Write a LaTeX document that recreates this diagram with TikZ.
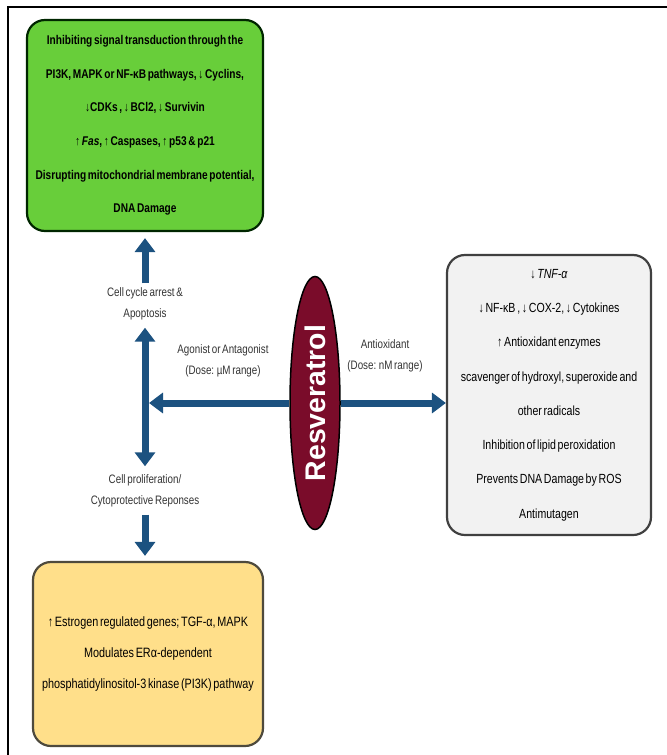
\documentclass[tikz,border=0pt]{standalone}
\usepackage{fontspec}
\setmainfont{Liberation Sans}
\newfontfamily\narrowsf[FakeStretch=0.8]{Liberation Sans}
\newcommand\tightsp{\spaceskip=0.17em plus 0.05em minus 0.03em\relax}
\usetikzlibrary{arrows.meta,positioning,shapes.geometric}
\definecolor{arrowblue}{RGB}{28,82,128}
\definecolor{cellgreen}{RGB}{104,206,58}
\definecolor{antigray}{RGB}{242,242,242}
\definecolor{estroyellow}{RGB}{255,223,138}
\definecolor{resmaroon}{RGB}{122,12,42}

\begin{document}
\begin{tikzpicture}[x=1bp, y=-1bp, >={Triangle[width=20bp,length=14bp]},
    box/.style={draw, line width=2.2bp, rounded corners=18bp, align=flush center, inner sep=0pt},
    lbl/.style={font=\narrowsf\tightsp\fontsize{12.3}{21}\selectfont, align=center, text=black!80},
    flow/.style={draw=arrowblue, line width=7bp}]
    \useasboundingbox (0,0) rectangle (667,755);
    \draw[line width=2.5bp] (8,760) -- (8,7) -- (670,7);

    % the three effect boxes
    \node[box, fill=cellgreen, draw=black!85!green, minimum width=236bp, minimum height=211bp, text width=234bp,
        font=\narrowsf\bfseries\tightsp\fontsize{12.7}{33.8}\selectfont] (arrest) at (145,125.5)
        {Inhibiting signal transduction through the\\
         PI3K, MAPK or NF-κB pathways, ↓ Cyclins,\\
         ↓CDKs , ↓ BCl2, ↓ Survivin\\
         ↑ \textit{Fas}, ↑ Caspases, ↑ p53 \& p21\\
         Disrupting mitochondrial membrane potential,\\
         DNA Damage};
    \node[box, fill=antigray, draw=black!75, minimum width=204bp, minimum height=280bp, text width=202bp,
        font=\narrowsf\tightsp\fontsize{13.3}{34.4}\selectfont] (antiox) at (549,395)
        {↓ \textit{TNF-α}\\
         ↓ NF-κB , ↓ COX-2, ↓ Cytokines\\
         ↑ Antioxidant enzymes\\
         scavenger of hydroxyl, superoxide and\\
         other radicals\\
         Inhibition of lipid peroxidation\\
         Prevents DNA Damage by ROS\\
         Antimutagen};
    \node[box, fill=estroyellow, draw=black!80!yellow, minimum width=230bp, minimum height=184bp, text width=228bp,
        font=\narrowsf\tightsp\fontsize{13.6}{31}\selectfont] (estro) at (148,654)
        {↑ Estrogen regulated genes; TGF-α, MAPK\\
         Modulates ERα-dependent\\
         phosphatidylinositol-3 kinase (PI3K) pathway};

    % resveratrol
    \node[ellipse, draw, line width=1.5bp, fill=resmaroon, rotate=90, minimum width=253bp, minimum height=50bp,
        inner sep=0pt, text=white, font=\bfseries\fontsize{28.5}{30}\selectfont] (res) at (315,403) {Resveratrol};

    % labels
    \node[lbl] (apop) at (145,304) {Cell cycle arrest \&\\Apoptosis};
    \node[lbl] (prolif) at (145,491) {Cell proliferation/\\Cytoprotective Reponses};
    \node[lbl] (agon) at (223,361) {Agonist or Antagonist\\(Dose: µM range)};
    \node[lbl] (antilbl) at (385,356) {Antioxidant\\(Dose: nM range)};
    \coordinate (hub) at (149,403);

    % arrows
    \draw[flow, ->, shorten <=1bp, shorten >=6bp] (apop.north) -- (apop.north |- arrest.south);
    \draw[flow, <->, shorten <=4bp, shorten >=5bp] (apop.south) -- (prolif.north);
    \draw[flow, ->] (res) -- (hub);
    \draw[flow, ->] (res) -- (res -| antiox.west);
    \draw[flow, ->, shorten <=4bp, shorten >=5bp] (prolif.south) -- (prolif.south |- estro.north);
\end{tikzpicture}
\end{document}
